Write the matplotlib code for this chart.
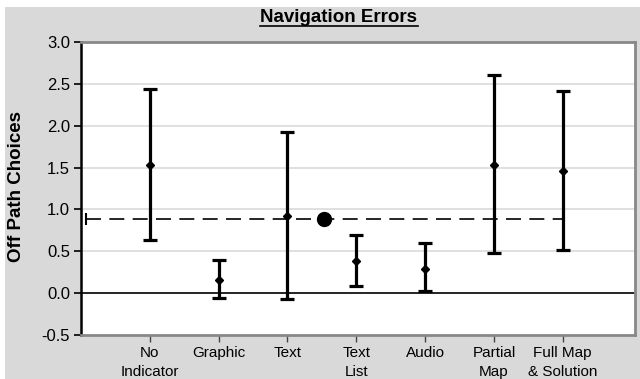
import matplotlib.pyplot as plt
from matplotlib.patches import Rectangle

# data
categories = ["No\nIndicator", "Graphic", "Text", "Text\nList", "Audio",
              "Partial\nMap", "Full Map\n& Solution"]
means = [1.53, 0.16, 0.92, 0.38, 0.29, 1.53, 1.46]
upper = [2.44, 0.39, 1.92, 0.69, 0.60, 2.60, 2.41]
lower = [0.63, -0.06, -0.075, 0.08, 0.02, 0.48, 0.51]
overall_mean = 0.89
overall_x = 3.53
y_ticks = [-0.5, 0.0, 0.5, 1.0, 1.5, 2.0, 2.5, 3.0]

plt.rcParams['font.family'] = ['Liberation Sans', 'DejaVu Sans']

fig = plt.figure(figsize=(6.4, 3.79), dpi=100)
fig.patch.set_facecolor("white")
fig.patches.append(Rectangle((5 / 640, 0), 1, 1 - 7 / 379, transform=fig.transFigure,
                             facecolor="#d9d9d9", edgecolor="none", zorder=-10))

ax = fig.add_axes([81 / 640, 44 / 379, 554 / 640, 293 / 379])
ax.set_facecolor("white")

x = list(range(1, len(categories) + 1))
yerr = [[m - lo for m, lo in zip(means, lower)], [up - m for m, up in zip(means, upper)]]

# reference line at the overall mean
ax.plot([0.07, 7], [overall_mean, overall_mean], color="black", lw=1.2,
        dashes=(9, 5), zorder=2)
ax.plot([0.07], [overall_mean], marker="|", ms=9, mew=1.5, color="black", zorder=2)
ax.plot([overall_x], [overall_mean], marker="o", ms=10, color="black", zorder=4)

ax.errorbar(x, means, yerr=yerr, fmt="D", ms=4.5, color="black", ecolor="black",
            elinewidth=2.3, capsize=4.8, capthick=2.3, zorder=3)

ax.axhline(0, color="black", lw=1.2, zorder=1)
for yv in [0.5, 1.0, 1.5, 2.0, 2.5]:
    ax.axhline(yv, color="#dadada", lw=1.2, zorder=0)

ax.set_xlim(0, 8.05)
ax.set_ylim(-0.5, 3.0)
ax.set_xticks(x)
ax.set_xticklabels(categories, fontsize=11, linespacing=1.45)
ax.set_yticks(y_ticks)
ax.set_yticklabels([f"{v:.1f}" for v in y_ticks], fontsize=12)
ax.tick_params(axis="x", length=5, width=1, color="#444444", pad=3)
ax.tick_params(axis="y", length=5, width=1.2, color="black", pad=3)

for side in ["top", "right", "bottom"]:
    ax.spines[side].set_color("#888888")
    ax.spines[side].set_linewidth(2)
ax.spines["left"].set_color("black")
ax.spines["left"].set_linewidth(1.8)

fig.text(339 / 640, 1 - 17 / 379, "Navigation Errors", ha="center", va="center",
         fontsize=13.5, fontweight="bold")
fig.add_artist(plt.Line2D([260 / 640, 418 / 640], [1 - 26 / 379, 1 - 26 / 379],
                          color="black", lw=1.2, transform=fig.transFigure))
fig.text(17 / 640, 1 - 186 / 379, "Off Path Choices", rotation=90, ha="center",
         va="center", fontsize=13.5, fontweight="bold")

fig.savefig("out.png", dpi=100)
